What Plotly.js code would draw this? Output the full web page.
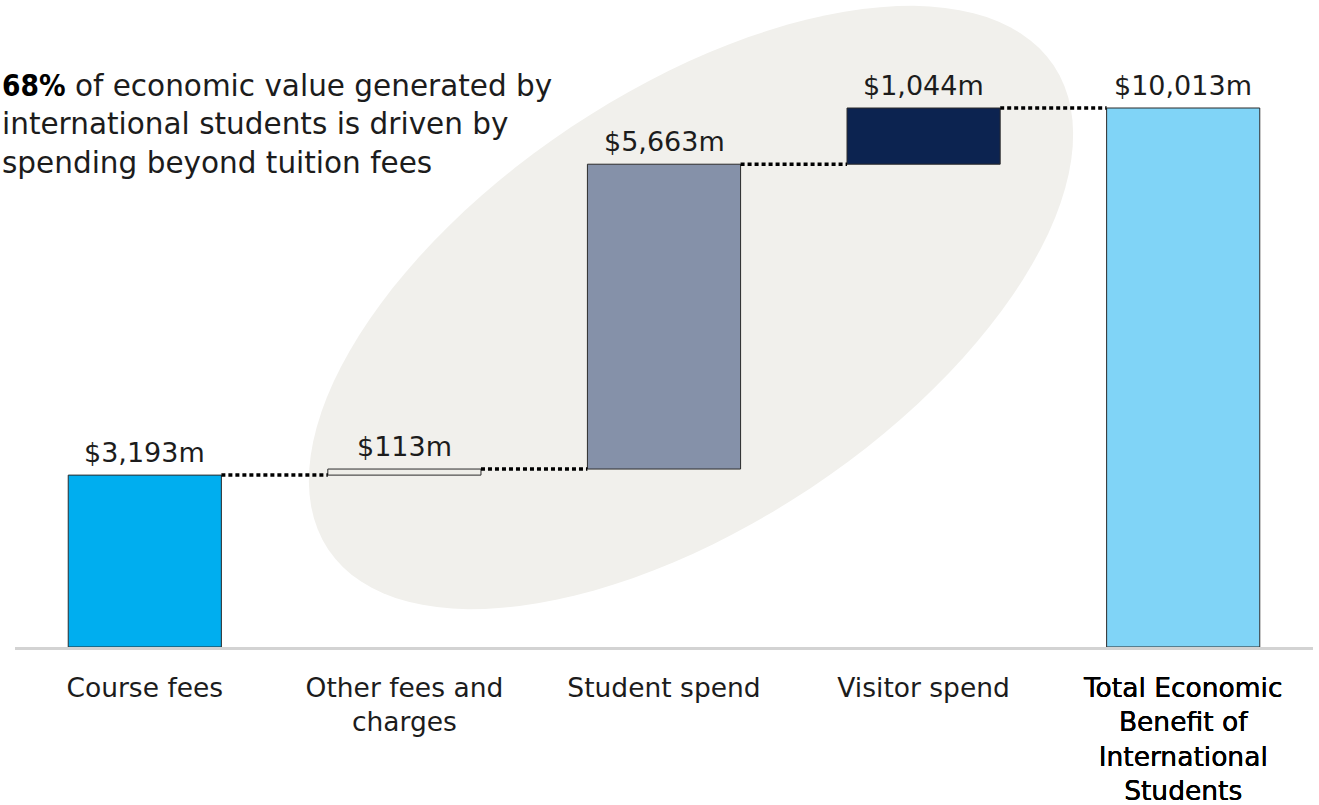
<!DOCTYPE html>
<html>
<head>
<meta charset="utf-8">
<script src="https://cdn.plot.ly/plotly-3.0.1.min.js"></script>
<style>html,body{margin:0;padding:0;background:#fff;}#chart{width:1319px;height:805px;}</style>
</head>
<body>
<div id="chart"></div>
<script>
// ---- data ----
const categories = ["Course fees", "Other fees and<br>charges", "Student spend", "Visitor spend", "Total Economic<br>Benefit of<br>International<br>Students"];
const emphasis = [false, false, false, false, true];
const values = [3193, 113, 5663, 1044, 10013];
const measures = ["relative", "relative", "relative", "relative", "total"];
const barColors = ["#00aeef", "#efeee9", "#8591a9", "#0c2350", "#80d4f7"];
const valueLabels = ["$3,193m", "$113m", "$5,663m", "$1,044m", "$10,013m"];
const noteBold = "68%";
const noteText = " of economic value generated by<br>international students is driven by<br>spending beyond tuition fees";

// ---- layout constants ----
const W = 1319, H = 805;
const M = {l: 15, r: 6, t: 20, b: 158};
const plotW = W - M.l - M.r, plotH = H - M.t - M.b;
const barWidth = 0.59;
const yMax = 11648;
const FONT = "'DejaVu Sans', sans-serif";
const BOLDSPAN = "<span style=\"font-family:'DejaVu Sans Condensed','DejaVu Sans';font-weight:bold;color:#000\">";
const MEDSPAN = "<span style=\"color:#000;text-shadow:0 0 0.6px #000, 0 0 0.6px #000\">";

// bases from cumulative sums
const bases = [], heights = [], tops = [];
let cum = 0;
values.forEach((v, i) => {
  if (measures[i] === "total") { bases.push(0); heights.push(v); tops.push(v); cum = v; }
  else { bases.push(cum); heights.push(v); cum += v; tops.push(cum); }
});
const xIdx = values.map((_, i) => i);
const tickText = categories.map((c, i) => emphasis[i] ? MEDSPAN + c.split("<br>").join("</span><br>" + MEDSPAN) + "</span>" : c);

const traces = [{
  type: "bar",
  x: xIdx, y: heights, base: bases,
  width: barWidth,
  marker: {color: barColors, line: {color: "#2b2b2b", width: 1}},
  hoverinfo: "skip"
}];

// connectors
for (let i = 0; i < values.length - 1; i++) {
  traces.push({
    type: "scatter", mode: "lines",
    x: [i + barWidth / 2, i + 1 - barWidth / 2],
    y: [tops[i], tops[i]],
    line: {color: "#000", width: 3.5, dash: "4px,3px"},
    hoverinfo: "skip"
  });
}

// rotated ellipse background (pixel space -> paper)
function ellipsePath(cx, cy, a, b, angDeg) {
  const phi = angDeg * Math.PI / 180;
  let d = "";
  for (let k = 0; k <= 120; k++) {
    const t = 2 * Math.PI * k / 120;
    const px = cx + a * Math.cos(t) * Math.cos(phi) - b * Math.sin(t) * Math.sin(phi);
    const py = cy + a * Math.cos(t) * Math.sin(phi) + b * Math.sin(t) * Math.cos(phi);
    const fx = (px - M.l) / plotW;
    const fy = (H - M.b - py) / plotH;
    d += (k === 0 ? "M" : "L") + fx.toFixed(5) + "," + fy.toFixed(5);
  }
  return d + "Z";
}

const annotations = values.map((v, i) => ({
  x: i, y: tops[i], xref: "x", yref: "y",
  text: valueLabels[i], showarrow: false,
  yanchor: "bottom", yshift: 5,
  font: {family: FONT, size: 27, color: "#1c1c1c"}
}));
annotations.push({
  xref: "paper", yref: "paper",
  x: -M.l / plotW, y: (H - M.b - 67) / plotH,
  xanchor: "left", yanchor: "top", align: "left",
  showarrow: false,
  text: BOLDSPAN + noteBold + "</span>" + noteText,
  font: {family: FONT, size: 29.5, color: "#1c1c1c"}
});

const layout = {
  width: W, height: H,
  margin: M,
  paper_bgcolor: "#fff", plot_bgcolor: "rgba(0,0,0,0)",
  showlegend: false,
  bargap: 0,
  xaxis: {
    range: [-0.5, 4.5], tickvals: xIdx, ticktext: tickText,
    showgrid: false, zeroline: false, showline: true, linecolor: "#d3d3d3", linewidth: 3,
    ticks: "", ticklabelstandoff: 15,
    tickfont: {family: FONT, size: 26.5, color: "#1c1c1c"},
    fixedrange: true
  },
  yaxis: {range: [0, yMax], visible: false, fixedrange: true},
  shapes: [{
    type: "path", xref: "paper", yref: "paper", layer: "below",
    path: ellipsePath(691, 307.5, 436, 216.6, -33.7),
    fillcolor: "#f1f0ec", line: {width: 0}
  }],
  annotations: annotations
};

Plotly.newPlot("chart", traces, layout, {displayModeBar: false, staticPlot: true});
</script>
</body>
</html>
